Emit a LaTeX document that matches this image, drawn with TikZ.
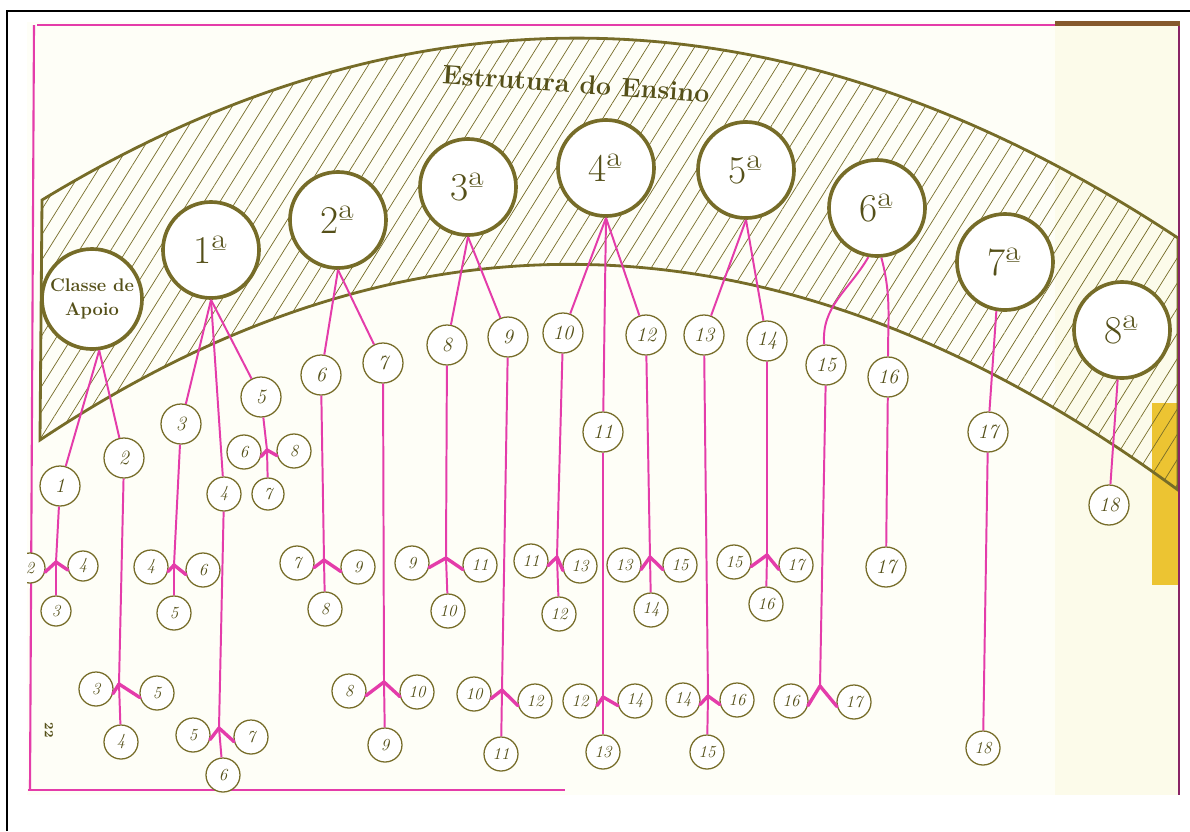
\documentclass[tikz,border=0pt]{standalone}
\usetikzlibrary{patterns.meta}
\definecolor{oliva}{RGB}{118,108,40}
\definecolor{tinta}{RGB}{85,80,25}
\definecolor{rosa}{RGB}{228,60,170}
\definecolor{papel}{RGB}{254,254,247}
\definecolor{amarelado}{RGB}{252,251,234}
\definecolor{fita}{RGB}{236,196,50}

\begin{document}
\begin{tikzpicture}[x=0.025cm, y=-0.025cm,
  serie/.style={draw=oliva, line width=2.6pt, circle, fill=white, minimum size=2.4cm,
    inner sep=0pt, text=tinta, font=\fontsize{28}{30}\selectfont},
  num/.style={draw=oliva, line width=0.9pt, circle, fill=white, minimum size=1cm,
    inner sep=0pt, text=tinta, font=\Large\itshape},
  sub/.style={num, minimum size=0.85cm, font=\large\itshape},
  liga/.style={draw=rosa, line width=1.4pt, line join=round},
  ramo/.style={draw=rosa, line width=2.4pt, line cap=round}]

\useasboundingbox (0,0) rectangle (1190,831);

% folha
\fill[papel] (27,22) rectangle (1180,795);
\fill[amarelado] (1055,22) rectangle (1178,795);
\fill[fita] (1152,403) rectangle (1180,585);

% faixa tracejada
\draw[oliva, line width=2pt, pattern={Lines[angle=58,distance=9.5pt,line width=0.5pt]}, pattern color=oliva]
  (42,200) .. controls (417,-28) and (795,-15) .. (1178,238) -- (1178,490)
  .. controls (793,207) and (415,190) .. (40,440) -- cycle;

% margens
\draw[rosa, line width=1.5pt] (37,25) -- (1178,25);
\fill[brown!70!black] (1055,21) rectangle (1180,26);
\draw[rosa, line width=1.5pt] (34,25) -- (30,790);
\draw[rosa, line width=1.5pt] (28,790) -- (565,790);
\draw[rosa!60!black, line width=1.5pt] (1179,26) -- (1179,795);
\draw[black, line width=1.5pt] (7,831) -- (7,11) -- (1190,11);

\node[rotate=-4, text=tinta, font=\fontsize{19}{22}\selectfont\bfseries] (titulo) at (576,84) {Estrutura do Ensino};
\node[rotate=-90, text=tinta, font=\small\bfseries] (pagina) at (49,730) {22};

% series
\node[serie, minimum size=2.5cm, font=\fontsize{13}{17}\selectfont\bfseries, align=center] (apoio) at (92,299) {Classe de\\Apoio};
\node[serie] (s1) at (211,250) {1ª};
\node[serie] (s2) at (338,220) {2ª};
\node[serie] (s3) at (468,187) {3ª};
\node[serie] (s4) at (606,168) {4ª};
\node[serie] (s5) at (746,170) {5ª};
\node[serie] (s6) at (877,208) {6ª};
\node[serie] (s7) at (1005,262) {7ª};
\node[serie] (s8) at (1122,330) {8ª};

% Classe de Apoio
\node[num] (a1) at (60,486) {1};
\node[num] (a2) at (124,458) {2};
\begin{scope}
\clip (27,540) rectangle (60,600);
\node[sub, minimum size=0.75cm] (a1l) at (30,568) {2};
\end{scope}
\node[sub, minimum size=0.75cm] (a1r) at (83,566) {4};
\node[sub, minimum size=0.75cm] (a1b) at (56,611) {3};
\coordinate (a1j) at (56,562);
\node[sub] (a2l) at (96,689) {3};
\node[sub] (a2r) at (157,693) {5};
\node[sub] (a2b) at (121,742) {4};
\coordinate (a2j) at (119,684);

% 1a serie
\node[num] (b3) at (181,424) {3};
\node[sub] (b4) at (224,494) {4};
\node[num] (b5) at (261,397) {5};
\node[sub] (b5l) at (244,452) {6};
\node[sub] (b5r) at (294,451) {8};
\node[sub, minimum size=0.8cm] (b5b) at (268,494) {7};
\coordinate (b5j) at (267,450);
\node[sub] (b3l) at (151,567) {4};
\node[sub] (b3r) at (203,570) {6};
\node[sub] (b3b) at (174,613) {5};
\coordinate (b3j) at (174,565);
\node[sub] (b4l) at (193,735) {5};
\node[sub] (b4r) at (251,737) {7};
\node[sub] (b4b) at (223,775) {6};
\coordinate (b4j) at (219,728);

% 2a serie
\node[num] (c6) at (321,375) {6};
\node[num] (c7) at (383,363) {7};
\node[sub] (c6l) at (297,563) {7};
\node[sub] (c6r) at (358,567) {9};
\node[sub] (c6b) at (325,609) {8};
\coordinate (c6j) at (324,560);
\node[sub] (c7l) at (349,691) {8};
\node[sub] (c7r) at (417,692) {10};
\node[sub] (c7b) at (385,745) {9};
\coordinate (c7j) at (384,682);

% 3a serie
\node[num] (d8) at (447,345) {8};
\node[num] (d9) at (508,337) {9};
\node[sub] (d8l) at (412,563) {9};
\node[sub] (d8r) at (480,565) {11};
\node[sub] (d8b) at (448,611) {10};
\coordinate (d8j) at (446,558);
\node[sub] (d9l) at (474,694) {10};
\node[sub] (d9r) at (535,701) {12};
\node[sub] (d9b) at (501,754) {11};
\coordinate (d9j) at (502,690);

% 4a serie
\node[num] (e10) at (563,333) {10};
\node[num] (e11) at (603,432) {11};
\node[num] (e12) at (646,335) {12};
\node[sub] (e10l) at (531,561) {11};
\node[sub] (e10r) at (580,566) {13};
\node[sub] (e10b) at (559,614) {12};
\coordinate (e10j) at (557,557);
\node[sub] (e11l) at (580,701) {12};
\node[sub] (e11r) at (635,701) {14};
\node[sub] (e11b) at (603,752) {13};
\coordinate (e11j) at (603,697);
\node[sub] (e12l) at (624,565) {13};
\node[sub] (e12r) at (680,565) {15};
\node[sub] (e12b) at (651,610) {14};
\coordinate (e12j) at (650,557);

% 5a serie
\node[num] (f13) at (704,335) {13};
\node[num] (f14) at (767,341) {14};
\node[sub] (f13l) at (683,700) {14};
\node[sub] (f13r) at (737,700) {16};
\node[sub] (f13b) at (707,752) {15};
\coordinate (f13j) at (708,696);
\node[sub] (f14l) at (734,562) {15};
\node[sub] (f14r) at (796,565) {17};
\node[sub] (f14b) at (766,604) {16};
\coordinate (f14j) at (767,555);

% 6a serie
\node[num] (g15) at (826,365) {15};
\node[num] (g16) at (888,377) {16};
\node[sub] (g15l) at (791,701) {16};
\node[sub] (g15r) at (854,702) {17};
\coordinate (g15j) at (820,686);
\node[num] (g16b) at (886,567) {17};

% 7a e 8a series
\node[num] (h17) at (988,432) {17};
\node[sub] (h17b) at (983,748) {18};
\node[num] (k18) at (1109,505) {18};

% ligacoes das series
\draw[liga] (apoio.-82) -- (a1);
\draw[liga] (apoio.-82) -- (a2);
\draw[liga] (s1.south) -- (b3);
\draw[liga] (s1.south) -- (b4);
\draw[liga] (s1.south) -- (b5);
\draw[liga] (s2.south) -- (c6);
\draw[liga] (s2.south) -- (c7);
\draw[liga] (s3.south) -- (d8);
\draw[liga] (s3.south) -- (d9);
\draw[liga] (s4.south) -- (e10);
\draw[liga] (s4.south) -- (e11);
\draw[liga] (s4.south) -- (e12);
\draw[liga] (s5.south) -- (f13);
\draw[liga] (s5.south) -- (f14);
\draw[liga] (s6.-100) to[out=-120, in=95] (g15);
\draw[liga] (s6.-85) to[out=-75, in=90] (g16);
\draw[liga] (s7.-100) -- (h17);
\draw[liga] (s8.-95) -- (k18);

% ligacoes simples
\draw[liga] (g16) -- (g16b);
\draw[liga] (h17) -- (h17b);

% ramificacoes
\foreach \n in {a1,a2,b5,b3,b4,c6,c7,d8,d9,e10,e11,e12,f13,f14} {
  \draw[liga] (\n) -- (\n j) -- (\n b);
  \draw[ramo] (\n j) -- (\n l.-15);
  \draw[ramo] (\n j) -- (\n r.195);
}
\draw[liga] (g15) -- (g15j);
\draw[ramo] (g15j) -- (g15l.-15);
\draw[ramo] (g15j) -- (g15r.195);

\end{tikzpicture}
\end{document}
